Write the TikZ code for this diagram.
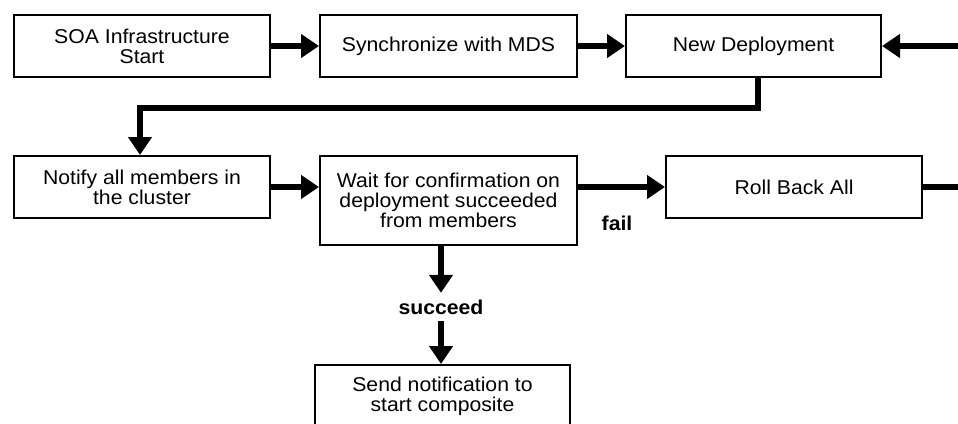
\documentclass[tikz,border=0pt]{standalone}
\usepackage{fontspec}
\setmainfont{Liberation Sans}[FakeStretch=1.06]
\usetikzlibrary{arrows.meta}
\begin{document}
\begin{tikzpicture}[x=1pt,y=-1pt,
  box/.style={draw=black,line width=2pt,fill=white,minimum width=256pt,minimum height=62pt,inner sep=0pt,align=center,font=\fontsize{20}{20}\selectfont},
  conn/.style={line width=5.5pt,-{Triangle[length=18pt,width=23pt]}},
  lbl/.style={font=\fontsize{20}{20}\selectfont\bfseries,inner sep=0pt}]
\clip (0,0) rectangle (958,423);
\fill[white] (0,0) rectangle (958,423);
\node[box] (soa) at (142,46) {SOA Infrastructure\\Start};
\node[box,minimum width=257pt] (sync) at (448.5,46) {Synchronize with MDS};
\node[box,minimum width=255pt] (newdep) at (753.5,46) {New Deployment};
\node[box] (notify) at (142,187) {Notify all members in\\the cluster};
\node[box,minimum width=257pt,minimum height=89pt] (wait) at (448.5,200.5) {Wait for confirmation on\\deployment succeeded\\from members};
\node[box] (roll) at (794,187) {Roll Back All};
\node[box,minimum width=255pt] (send) at (442.5,396) {Send notification to\\start composite};
\node[lbl] (fail) at (617,223) {fail};
\node[lbl,minimum height=28pt] (succ) at (441,307) {succeed};
\coordinate (turn) at (758,108);
\draw[conn] (soa.east) -- (sync.west);
\draw[conn] (sync.east) -- (newdep.west);
\draw[conn] (newdep.south -| turn) -- (turn) -- (140,108) -- (notify.north -| 140,0);
\draw[conn] (notify.east) -- (notify.east -| wait.west);
\draw[conn] (notify.east -| wait.east) -- (roll.west);
\draw[conn] (roll.east) -- ++(60,0) |- (newdep.east);
\draw[conn] (succ.north |- wait.south) -- (succ.north);
\draw[conn] (succ.south) -- (send.north -| succ.south);
\end{tikzpicture}
\end{document}
